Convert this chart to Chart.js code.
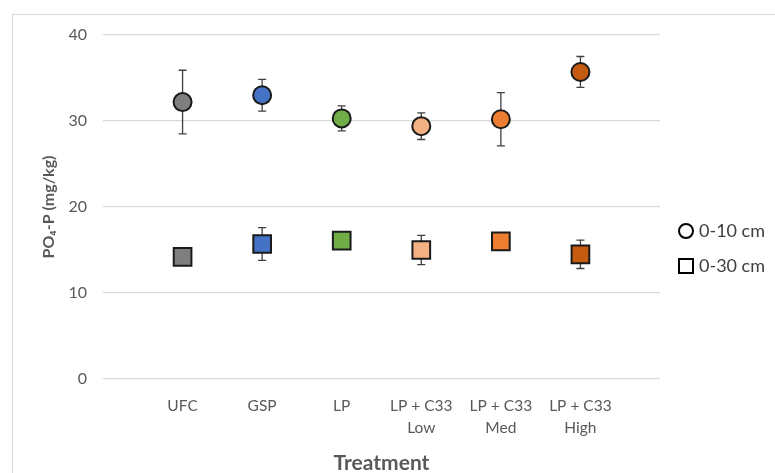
<!DOCTYPE html>
<html>
<head>
<meta charset="utf-8">
<script src="https://cdn.jsdelivr.net/npm/chart.js@4/dist/chart.umd.min.js"></script>
<style>
  html, body { margin: 0; padding: 0; background: #fff; }
  #wrap { position: relative; width: 775px; height: 473px; }
</style>
</head>
<body>
<div id="wrap"><canvas id="phosChart" width="775" height="473"></canvas></div>
<script>
// treatments along the x axis (multi-line labels)
const treatments = [['UFC'], ['GSP'], ['LP'], ['LP + C33', 'Low'], ['LP + C33', 'Med'], ['LP + C33', 'High']];
const seriesNames = ['0-10 cm', '0-30 cm'];

// PO4-P means and error (mg/kg)
const mean0to10 = [32.2, 33.0, 30.3, 29.4, 30.2, 35.7];
const err0to10 = [3.7, 1.85, 1.45, 1.55, 3.1, 1.8];
const mean0to30 = [14.2, 15.7, 16.1, 15.0, 16.0, 14.5];
const err0to30 = [0.8, 1.9, 0.7, 1.7, 0.7, 1.65];

const yTicks = [0, 10, 20, 30, 40];
const pointColors = ['#7f7f7f', '#4472c4', '#70ad47', '#f4b183', '#ed7d31', '#c55a11'];

const font = 'Lato, "DejaVu Sans", sans-serif';
const labelColor = '#595959';

function toPoints(vals) {
    return vals.map((v, i) => ({ x: i + 1, y: v }));
}

// error bars drawn under the markers
const errorBars = {
    id: 'errorBars',
    beforeDatasetsDraw(chart) {
        const ctx = chart.ctx;
        const xs = chart.scales.x;
        const ys = chart.scales.y;
        const sets = [[mean0to10, err0to10], [mean0to30, err0to30]];
        ctx.save();
        ctx.strokeStyle = '#404040';
        ctx.lineWidth = 1.3;
        sets.forEach(([m, e]) => {
            m.forEach((v, i) => {
                const px = xs.getPixelForValue(i + 1);
                const top = ys.getPixelForValue(v + e[i]);
                const bot = ys.getPixelForValue(v - e[i]);
                ctx.beginPath();
                ctx.moveTo(px, top); ctx.lineTo(px, bot);
                ctx.moveTo(px - 4, top); ctx.lineTo(px + 4, top);
                ctx.moveTo(px - 4, bot); ctx.lineTo(px + 4, bot);
                ctx.stroke();
            });
        });
        ctx.restore();
    }
};

// outer frame and the open-marker legend on the right
const frameAndLegend = {
    id: 'frameAndLegend',
    beforeDraw(chart) {
        const ctx = chart.ctx;
        ctx.save();
        ctx.strokeStyle = '#d9d9d9';
        ctx.lineWidth = 1;
        ctx.strokeRect(12.5, 14.5, 800, 500);
        ctx.restore();
    },
    afterDraw(chart) {
        const ctx = chart.ctx;
        ctx.save();
        ctx.strokeStyle = '#000';
        ctx.lineWidth = 2;
        ctx.beginPath();
        ctx.arc(686, 231, 7, 0, Math.PI * 2);
        ctx.stroke();
        ctx.strokeRect(679, 259, 14, 14);
        ctx.fillStyle = '#404040';
        ctx.font = '18px ' + font;
        ctx.textBaseline = 'middle';
        ctx.fillText(seriesNames[0], 699, 231);
        ctx.fillText(seriesNames[1], 699, 266);
        ctx.restore();
    }
};

const ctx = document.getElementById('phosChart').getContext('2d');

new Chart(ctx, {
    type: 'scatter',
    data: {
        datasets: [
            {
                label: seriesNames[0],
                data: toPoints(mean0to10),
                pointStyle: 'circle',
                pointRadius: 9,
                pointHoverRadius: 9,
                backgroundColor: pointColors,
                borderColor: '#1a1a1a',
                borderWidth: 2
            },
            {
                label: seriesNames[1],
                data: toPoints(mean0to30),
                pointStyle: 'rect',
                pointRadius: 12.5,
                pointHoverRadius: 12.5,
                backgroundColor: pointColors,
                borderColor: '#1a1a1a',
                borderWidth: 2
            }
        ]
    },
    options: {
        responsive: false,
        animation: false,
        layout: { padding: { left: 36, right: 115, top: 35, bottom: 0 } },
        plugins: {
            legend: { display: false },
            tooltip: { enabled: false }
        },
        scales: {
            x: {
                type: 'linear',
                min: 0,
                max: 7,
                grid: { display: false, drawTicks: false },
                border: { display: false },
                afterFit: s => { s.height = 94; },
                afterBuildTicks: s => { s.ticks = [0, 1, 2, 3, 4, 5, 6, 7].map(v => ({ value: v })); },
                ticks: {
                    autoSkip: false,
                    maxRotation: 0,
                    padding: 16,
                    color: labelColor,
                    font: { family: font, size: 15.5, lineHeight: 1.42 },
                    callback: v => treatments[v - 1] || ''
                },
                title: {
                    display: true,
                    text: 'Treatment',
                    color: labelColor,
                    padding: { top: 0, bottom: -3 },
                    font: { family: font, size: 21, weight: 'bold' }
                }
            },
            y: {
                min: 0,
                max: 40,
                afterFit: s => { s.width = 67; },
                afterBuildTicks: s => { s.ticks = yTicks.map(v => ({ value: v })); },
                grid: { color: '#d9d9d9', lineWidth: 1.3, drawTicks: false },
                border: { display: false },
                ticks: {
                    padding: 16,
                    color: labelColor,
                    font: { family: font, size: 16 }
                },
                title: {
                    display: true,
                    text: 'PO₄-P (mg/kg)',
                    color: labelColor,
                    padding: { top: 3, bottom: 3 },
                    font: { family: font, size: 16, weight: 'bold' }
                }
            }
        }
    },
    plugins: [errorBars, frameAndLegend]
});
</script>
</body>
</html>
